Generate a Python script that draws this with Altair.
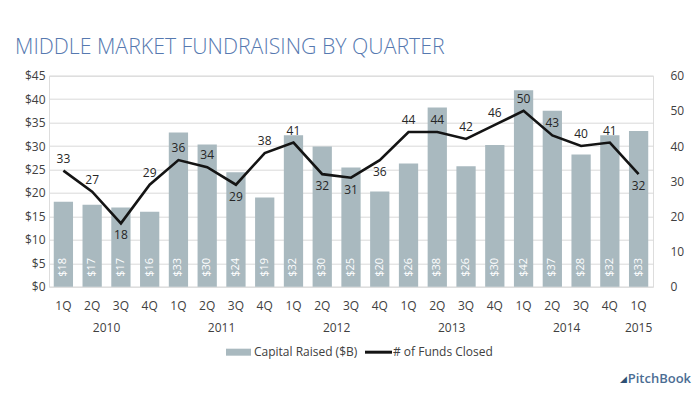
import altair as alt
import pandas as pd

# ---------------- data ----------------
years = ["2010"] * 4 + ["2011"] * 4 + ["2012"] * 4 + ["2013"] * 4 + ["2014"] * 4 + ["2015"]
quarters = ["1Q", "2Q", "3Q", "4Q"] * 5 + ["1Q"]
capital = [18.1, 17.5, 16.9, 16.0, 32.9, 30.3, 24.4, 19.0, 32.3, 29.9, 25.4,
           20.3, 26.3, 38.2, 25.7, 30.2, 41.9, 37.5, 28.2, 32.3, 33.2]
capital_labels = ["$18", "$17", "$17", "$16", "$33", "$30", "$24", "$19", "$32", "$30", "$25",
                  "$20", "$26", "$38", "$26", "$30", "$42", "$37", "$28", "$32", "$33"]
funds = [33, 27, 18, 29, 36, 34, 29, 38, 41, 32, 31, 36, 44, 44, 42, 46, 50, 43, 40, 41, 32]
# which fund-count labels sit below the line
below_idx = [2, 6, 9, 10, 11, 20]
year_names = ["2010", "2011", "2012", "2013", "2014"]
last_year = "2015"

keys = [f"{y} {q}" for y, q in zip(years, quarters)]
df = pd.DataFrame({
    "key": keys,
    "capital": capital,
    "cap_label": capital_labels,
    "funds": funds,
    "below": [i in below_idx for i in range(len(funds))],
})
years_df = pd.DataFrame({"key": [f"{y} 2Q" for y in year_names], "year": year_names})
last_df = pd.DataFrame({"key": [f"{last_year} 1Q"], "year": [last_year]})

W, H = 604, 211
FONT = "Open Sans"
TXT = "#404040"
BAR = "#a9b9bf"

xscale = alt.Scale(paddingInner=0.33, paddingOuter=0.165)
xaxis = alt.Axis(title=None, labelExpr="split(datum.label, ' ')[1]",
                 domain=False, ticks=False, labelPadding=14, labelAngle=0,
                 labelOverlap=False, labelFontSize=12, labelColor=TXT, labelFont=FONT)
xenc = alt.X("key:N", sort=keys, scale=xscale, axis=xaxis)

ycap = alt.Scale(domain=[0, 45], nice=False)
yfund = alt.Scale(domain=[0, 60], nice=False)
ycap_axis = alt.Axis(title=None, values=list(range(0, 46, 5)), labelExpr="'$' + datum.value",
                     grid=True, gridColor="#d9d9d9", domain=False, ticks=False,
                     labelOverlap=False, labelPadding=4, labelFontSize=12,
                     labelColor=TXT, labelFont=FONT)
yfund_axis = alt.Axis(title=None, orient="right", values=list(range(0, 61, 10)),
                      grid=False, domain=False, ticks=False, labelPadding=17,
                      labelOverlap=False, labelAlign="left", labelFontSize=12,
                      labelColor=TXT, labelFont=FONT)

base = alt.Chart(df)

bars = base.mark_bar(color=BAR).encode(
    x=xenc,
    y=alt.Y("capital:Q", scale=ycap, axis=ycap_axis),
)
bar_labels = base.mark_text(angle=270, align="left", baseline="middle", dx=10,
                            color="white", fontSize=11, font=FONT).encode(
    x=xenc, y=alt.datum(0, scale=ycap, axis=ycap_axis), text="cap_label:N")

bar_group = alt.layer(bars, bar_labels)

line = base.mark_line(color="#141414", strokeWidth=2.6).encode(
    x=xenc,
    y=alt.Y("funds:Q", scale=yfund, axis=yfund_axis),
)
lab_above = base.transform_filter("!datum.below").mark_text(
    dy=-12, baseline="middle", fontSize=12, color="#262626", font=FONT).encode(
    x=xenc, y=alt.Y("funds:Q", scale=yfund, axis=yfund_axis), text="funds:Q")
lab_below = base.transform_filter("datum.below").mark_text(
    dy=12, baseline="middle", fontSize=12, color="#262626", font=FONT).encode(
    x=xenc, y=alt.Y("funds:Q", scale=yfund, axis=yfund_axis), text="funds:Q")

line_group = alt.layer(line, lab_above, lab_below)

year_text = alt.Chart(years_df).mark_text(dx=W / 21 / 2, baseline="middle", fontSize=12,
                                          color=TXT, font=FONT).encode(
    x=xenc, y=alt.value(252.5), text="year:N")
last_text = alt.Chart(last_df).mark_text(baseline="middle", fontSize=12,
                                         color=TXT, font=FONT).encode(
    x=xenc, y=alt.value(252.5), text="year:N")

one = pd.DataFrame({"a": [0]})
title = alt.Chart(one).mark_text(text="MIDDLE MARKET FUNDRAISING BY QUARTER", align="left",
                                 baseline="middle", fontSize=21.3, fontWeight=300,
                                 color="#5679b0", font=FONT).encode(
    x=alt.value(-34), y=alt.value(-27.5))
leg_rect = alt.Chart(one).mark_rect(color=BAR).encode(
    x=alt.value(177), x2=alt.value(202), y=alt.value(273), y2=alt.value(280))
leg_t1 = alt.Chart(one).mark_text(text="Capital Raised ($B)", align="left", baseline="middle",
                                  fontSize=12, color=TXT, font=FONT).encode(
    x=alt.value(205), y=alt.value(276.5))
leg_rule = alt.Chart(one).mark_rule(color="#141414", strokeWidth=3).encode(
    x=alt.value(316), x2=alt.value(343), y=alt.value(276.5))
leg_t2 = alt.Chart(one).mark_text(text="# of Funds Closed", align="left", baseline="middle",
                                  fontSize=12, color=TXT, font=FONT).encode(
    x=alt.value(344), y=alt.value(276.5))
logo_mark = alt.Chart(one).mark_text(text="◢", align="right", baseline="middle",
                                     fontSize=9, color="#2f4f73", font="DejaVu Sans").encode(
    x=alt.value(578), y=alt.value(303))
logo = alt.Chart(one).mark_text(text="PitchBook", align="right", baseline="middle",
                                fontSize=13, fontWeight=600, color="#4b6d93", font=FONT).encode(
    x=alt.value(642), y=alt.value(303))

chart = alt.layer(
    bar_group, line_group, year_text, last_text, title, leg_rect, leg_t1, leg_rule, leg_t2,
    logo_mark, logo
).resolve_scale(y="independent").properties(
    width=W, height=H,
    autosize=alt.AutoSizeParams(type="none"),
    padding={"left": 41, "top": 67.7, "right": 39, "bottom": 99},
).configure_view(stroke=None).configure(background="white")

chart.save("out.html", embed_options={"renderer": "svg", "actions": False})
